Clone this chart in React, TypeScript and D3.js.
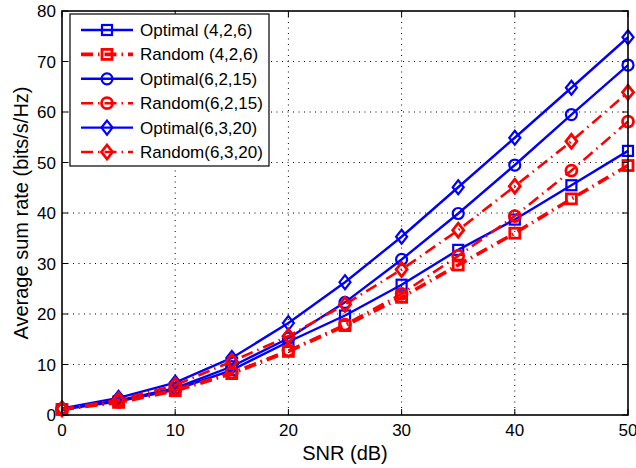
import React from "react"
import * as d3 from "d3"

// SNR values (dB)
const snr = [0, 5, 10, 15, 20, 25, 30, 35, 40, 45, 50]

// average sum rate (bits/s/Hz)
const optimal426 = [1.1, 2.7, 5.0, 8.9, 14.5, 19.7, 25.8, 32.7, 38.7, 45.5, 52.3]
const random426 = [1.1, 2.5, 4.8, 8.2, 12.6, 17.7, 23.3, 29.7, 36.0, 42.8, 49.4]
const optimal6215 = [1.2, 2.9, 5.3, 9.6, 15.2, 22.3, 30.8, 39.9, 49.5, 59.5, 69.3]
const random6215 = [1.1, 2.6, 5.0, 8.4, 12.8, 17.9, 24.0, 31.5, 39.4, 48.4, 58.1]
const optimal6320 = [1.3, 3.4, 6.4, 11.3, 18.2, 26.3, 35.3, 45.1, 54.9, 64.8, 74.8]
const random6320 = [1.2, 3.0, 5.9, 10.6, 15.6, 21.9, 28.8, 36.6, 45.3, 54.2, 63.9]

const xTicks = [0, 10, 20, 30, 40, 50]
const yTicks = [0, 10, 20, 30, 40, 50, 60, 70, 80]

const seriesNames = [
  "Optimal (4,2,6)",
  "Random (4,2,6)",
  "Optimal(6,2,15)",
  "Random(6,2,15)",
  "Optimal(6,3,20)",
  "Random(6,3,20)"
]

const W = 636
const H = 468
const left = 62
const right = 628
const top = 11
const bottom = 415
const FONT = "'Liberation Sans', Arial, Helvetica, sans-serif"

const x = d3.scaleLinear().domain([0, 50]).range([left, right])
const y = d3.scaleLinear().domain([0, 80]).range([bottom, top])

type Series = {
  name: string
  values: number[]
  color: string
  dashed: boolean
  marker: "square" | "circle" | "diamond"
  width: number
}

const series: Series[] = [
  { name: seriesNames[0], values: optimal426, color: "#0000ff", dashed: false, marker: "square", width: 2.4 },
  { name: seriesNames[1], values: random426, color: "#ff0000", dashed: true, marker: "square", width: 3.6 },
  { name: seriesNames[2], values: optimal6215, color: "#0000ff", dashed: false, marker: "circle", width: 2.4 },
  { name: seriesNames[3], values: random6215, color: "#ff0000", dashed: true, marker: "circle", width: 2.6 },
  { name: seriesNames[4], values: optimal6320, color: "#0000ff", dashed: false, marker: "diamond", width: 2.4 },
  { name: seriesNames[5], values: random6320, color: "#ff0000", dashed: true, marker: "diamond", width: 2.6 }
]

const DASH = "12,5,1.5,5"

function Marker({ kind, cx, cy, color, sw }: { kind: string; cx: number; cy: number; color: string; sw: number }) {
  if (kind === "square") {
    return <rect x={cx - 5} y={cy - 5} width={10} height={10} fill="none" stroke={color} strokeWidth={sw} />
  }
  if (kind === "circle") {
    return <circle cx={cx} cy={cy} r={5.5} fill="none" stroke={color} strokeWidth={sw} />
  }
  return (
    <path
      d={`M${cx},${cy - 7}L${cx + 5.5},${cy}L${cx},${cy + 7}L${cx - 5.5},${cy}Z`}
      fill="none"
      stroke={color}
      strokeWidth={sw}
    />
  )
}

export default function App() {
  const line = d3
    .line<number>()
    .x((d, i) => x(snr[i]))
    .y(d => y(d))

  const legX = 70
  const legY = 14
  const legW = 199
  const legH = 152
  const rowY = (i: number) => 30 + i * 24.4

  return (
    <svg
      width={W}
      height={H}
      style={{ position: "absolute", left: 0, top: 0, background: "#fff" }}
      fontFamily={FONT}
    >
      <rect x={0} y={0} width={W} height={H} fill="#fff" />
      {/* grid */}
      {xTicks.slice(1, -1).map(t => (
        <line key={"gx" + t} x1={x(t)} x2={x(t)} y1={top} y2={bottom} stroke="#000" strokeWidth={1} strokeDasharray="1,4.5" />
      ))}
      {yTicks.slice(1, -1).map(t => (
        <line key={"gy" + t} x1={left} x2={right} y1={y(t)} y2={y(t)} stroke="#000" strokeWidth={1} strokeDasharray="1,4.5" />
      ))}

      {/* series */}
      {series.map(s => (
        <g key={s.name}>
          <path
            d={line(s.values) || ""}
            fill="none"
            stroke={s.color}
            strokeWidth={s.width}
            strokeDasharray={s.dashed ? DASH : undefined}
          />
          {s.values.map((v, i) => (
            <Marker key={i} kind={s.marker} cx={x(snr[i])} cy={y(v)} color={s.color} sw={s.dashed ? 2.8 : 2.2} />
          ))}
        </g>
      ))}

      {/* axes box and ticks */}
      <rect x={left} y={top} width={right - left} height={bottom - top} fill="none" stroke="#000" strokeWidth={1.6} />
      {xTicks.map(t => (
        <g key={"tx" + t}>
          <line x1={x(t)} x2={x(t)} y1={bottom} y2={bottom - 6} stroke="#000" strokeWidth={1} />
          <line x1={x(t)} x2={x(t)} y1={top} y2={top + 6} stroke="#000" strokeWidth={1} />
          <text x={x(t)} y={436} textAnchor="middle" fontSize={17}>{t}</text>
        </g>
      ))}
      {yTicks.map(t => (
        <g key={"ty" + t}>
          <line x1={left} x2={left + 6} y1={y(t)} y2={y(t)} stroke="#000" strokeWidth={1} />
          <line x1={right} x2={right - 6} y1={y(t)} y2={y(t)} stroke="#000" strokeWidth={1} />
          <text x={56} y={y(t) + 6} textAnchor="end" fontSize={17}>{t}</text>
        </g>
      ))}

      <text x={(left + right) / 2} y={460} textAnchor="middle" fontSize={20}>SNR (dB)</text>
      <text transform={`translate(28,${(top + bottom) / 2}) rotate(-90)`} textAnchor="middle" fontSize={20}>
        Average sum rate (bits/s/Hz)
      </text>

      {/* legend */}
      <rect x={legX} y={legY} width={legW} height={legH} fill="#fff" stroke="#000" strokeWidth={1.2} />
      {series.map((s, i) => (
        <g key={"leg" + i}>
          <line
            x1={81}
            x2={133}
            y1={rowY(i)}
            y2={rowY(i)}
            stroke={s.color}
            strokeWidth={s.width}
            strokeDasharray={s.dashed ? DASH : undefined}
          />
          <Marker kind={s.marker} cx={107} cy={rowY(i)} color={s.color} sw={s.dashed ? 2.8 : 2.2} />
          <text x={140} y={rowY(i) + 6} fontSize={17}>{s.name}</text>
        </g>
      ))}
    </svg>
  )
}
